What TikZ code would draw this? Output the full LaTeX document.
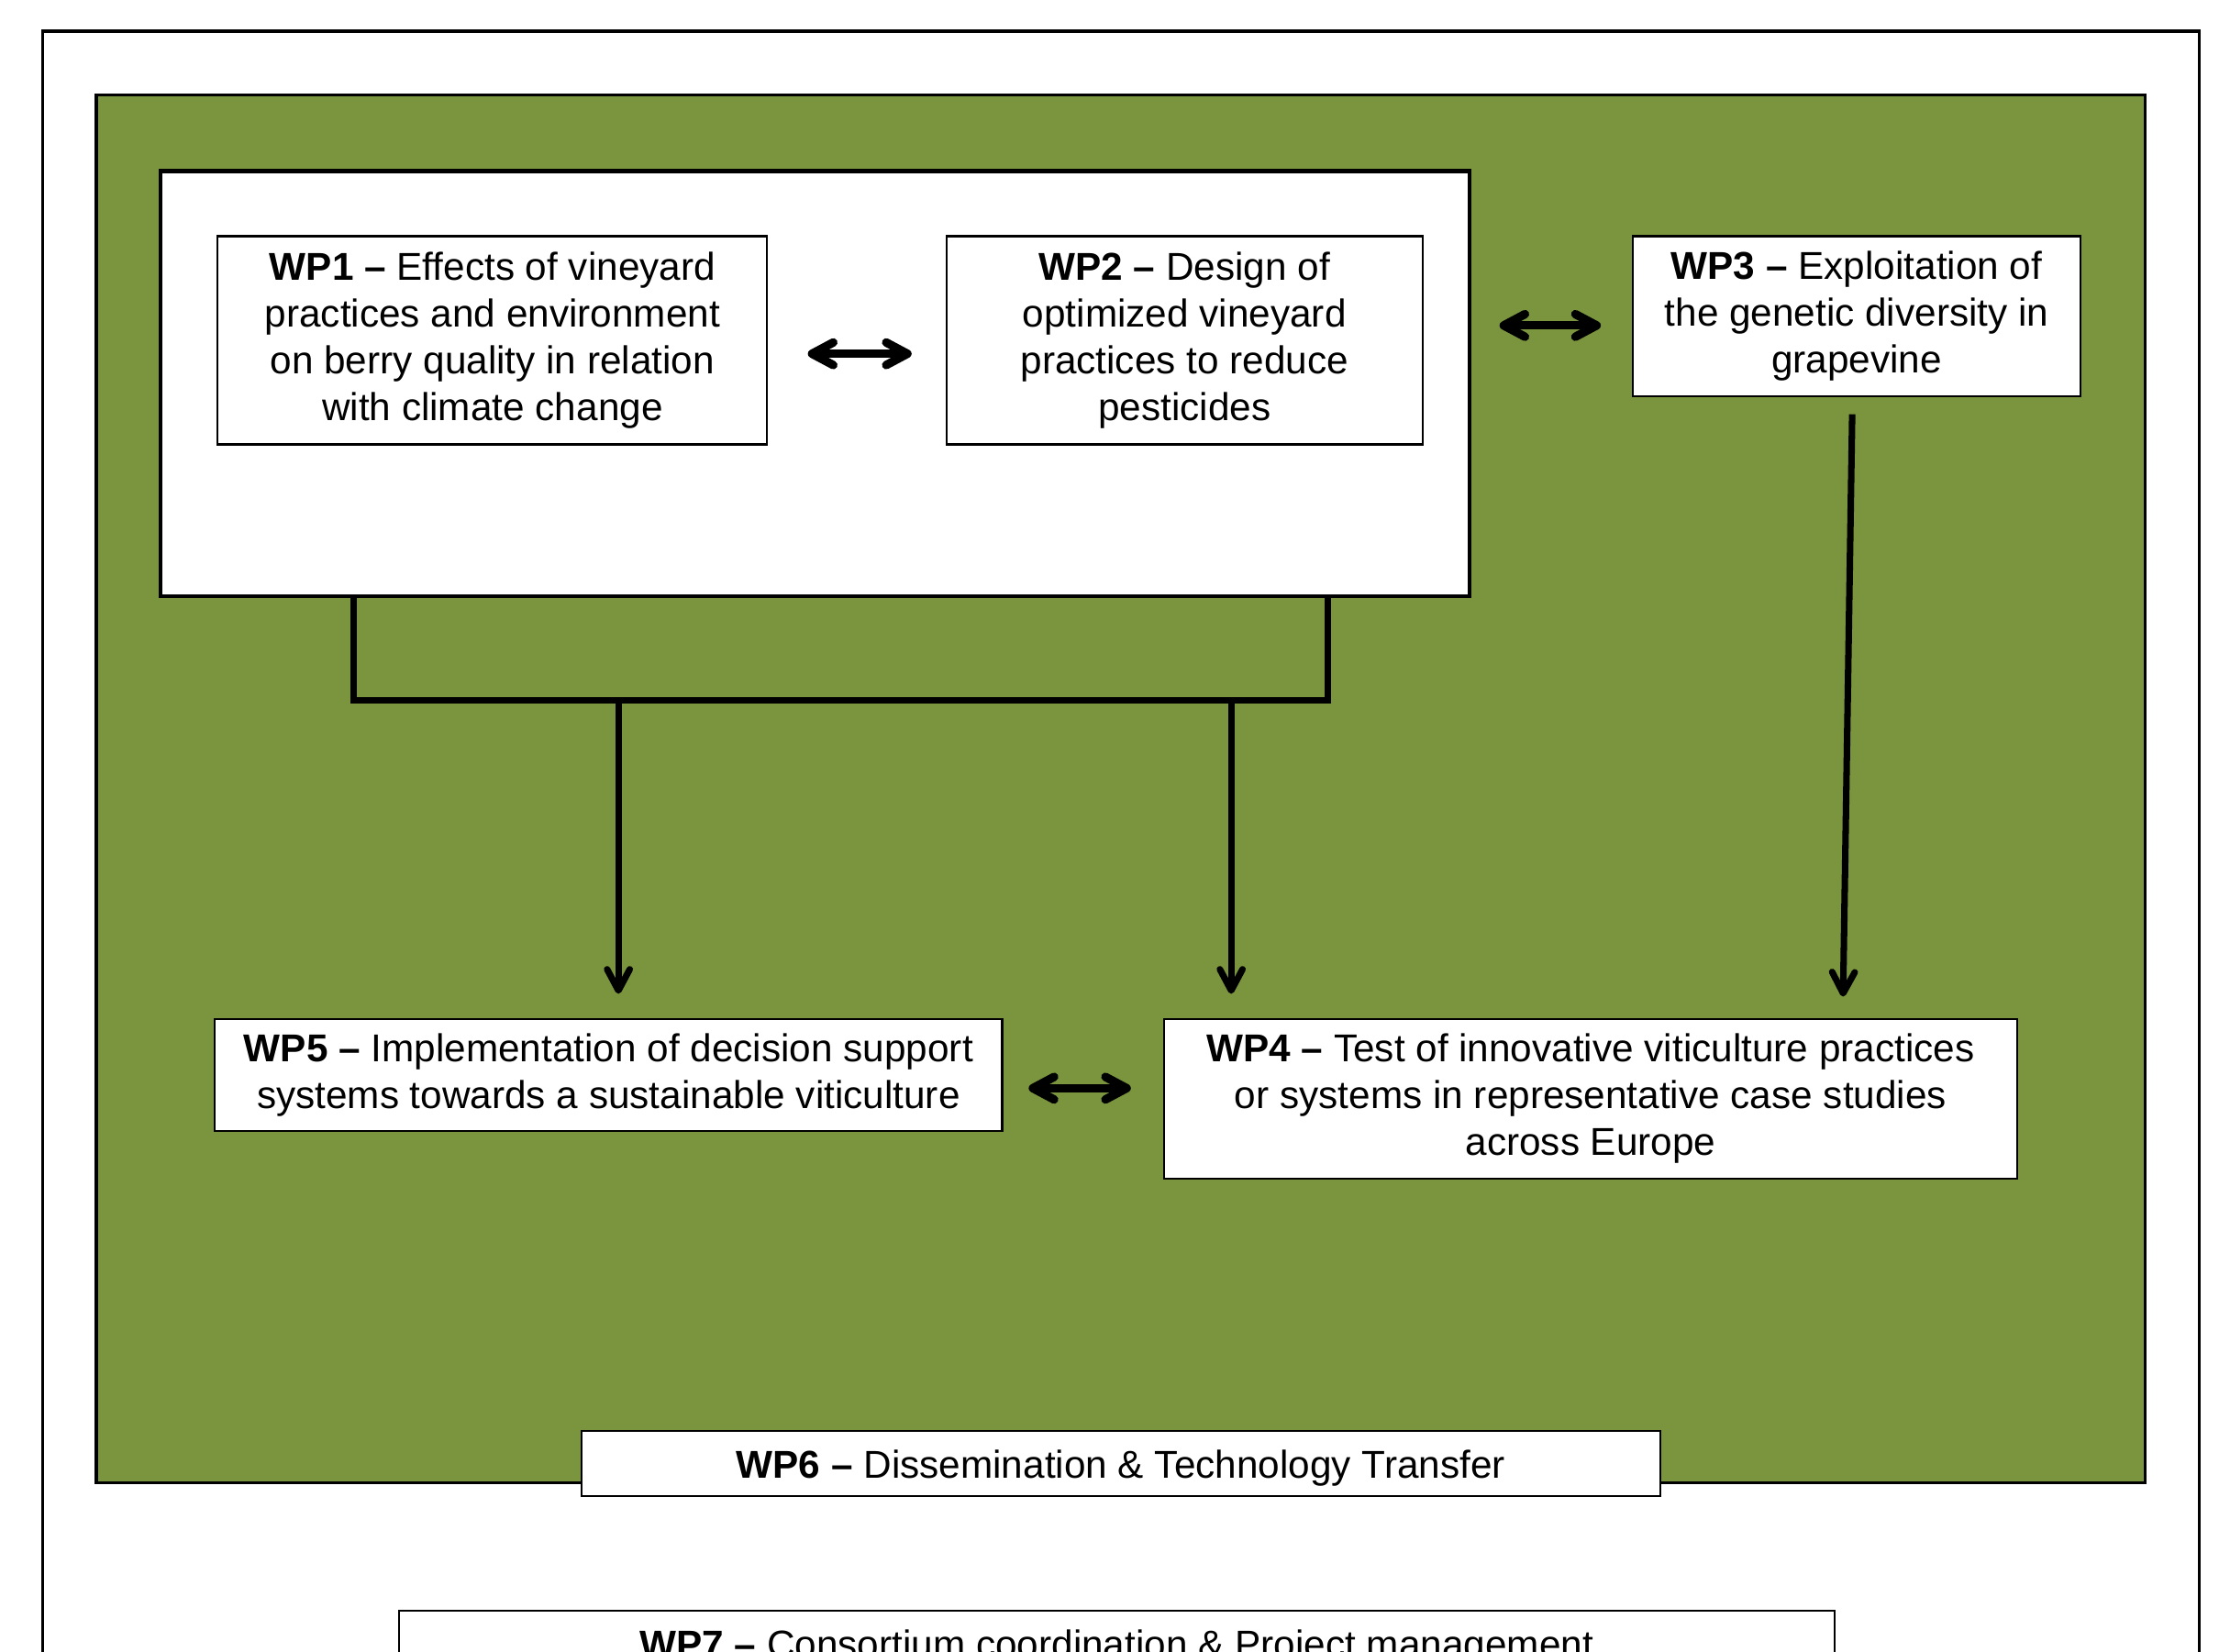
\documentclass[tikz,border=0pt]{standalone}
\usepackage{fontspec}
\setmainfont{Liberation Sans}
\usetikzlibrary{arrows.meta}
\usetikzlibrary{calc}
\definecolor{vinegreen}{RGB}{122,149,62}

\begin{document}
\begin{tikzpicture}[x=0.01cm, y=-0.01cm,
        >={Straight Barb[length=1.5mm,width=1.6mm,round]},
        wp/.style={draw, line width=0.4pt, fill=white, align=center, inner sep=0pt,
            font=\fontsize{7.8}{9.4}\selectfont,
            execute at begin node={\rule{0pt}{0.27cm}}},
        flow/.style={->, line width=1.3pt},
        biflow/.style={<->, line width=1.7pt}]
        \useasboundingbox (0,0) rectangle (1568,1167);
        \clip (0,0) rectangle (1568,1167);
        \fill[white] (0,0) rectangle (1568,1167);

        % frames
        \draw[line width=0.6pt] (30,22) rectangle (1554,1300);
        \draw[line width=0.6pt, fill=vinegreen] (68,67) rectangle (1516,1048);
        \node[draw, line width=0.75pt, fill=white, inner sep=0pt,
            minimum width=9.24cm, minimum height=3cm] (core) at (576,271) {};

        \node[wp, minimum width=3.88cm, minimum height=1.47cm] (wp1) at (348,240.5)
            {\textbf{WP1 –} Effects of vineyard\\practices and environment\\on berry quality in relation\\with climate change};
        \node[wp, minimum width=3.36cm, minimum height=1.47cm] (wp2) at (837,240.5)
            {\textbf{WP2 –} Design of\\optimized vineyard\\practices to reduce\\pesticides};
        \node[wp, minimum width=3.16cm, minimum height=1.13cm] (wp3) at (1312,223.5)
            {\textbf{WP3 –} Exploitation of\\the genetic diversity in\\grapevine};
        \node[wp, minimum width=5.56cm, minimum height=0.79cm] (wp5) at (430,759.5)
            {\textbf{WP5 –} Implementation of decision support\\systems towards a sustainable viticulture};
        \node[wp, minimum width=6.02cm, minimum height=1.13cm] (wp4) at (1124,776.5)
            {\textbf{WP4 –} Test of innovative viticulture practices\\or systems in representative case studies\\across Europe};
        \node[wp, minimum width=7.62cm, minimum height=0.46cm] (wp6) at (792,1034)
            {\textbf{WP6 –} Dissemination \& Technology Transfer};
        \node[wp, minimum width=10.14cm, minimum height=0.46cm] (wp7) at (789,1161)
            {\textbf{WP7 –} Consortium coordination \& Project management};

        % links
        \draw[biflow, shorten <=2.8mm, shorten >=2.4mm] (wp1.east |- 0,250) -- (wp2.west |- 0,250);
        \draw[biflow, shorten <=2mm, shorten >=2.2mm] (core.east |- 0,230) -- (wp3.west |- 0,230);
        \draw[biflow, shorten <=1.8mm, shorten >=2.3mm] (wp5.east |- 0,769) -- (wp4.west |- 0,769);

        \coordinate (jl) at (250,495);
        \coordinate (jr) at (938,495);
        \coordinate (j5) at (437,495);
        \coordinate (j4) at (870,495);
        \draw[line width=1.3pt] (core.south -| jl) -- (jl) -- (jr) -- (core.south -| jr);
        \draw[flow, shorten >=1.7mm] (j5) -- (j5 |- wp5.north);
        \draw[flow, shorten >=1.7mm] (j4) -- (j4 |- wp4.north);
        \draw[flow, shorten <=1.2mm, shorten >=1.5mm] ($(wp3.south)+(-3,0)$) -- ($(wp4.north west)+(480,0)$);
    \end{tikzpicture}
\end{document}
